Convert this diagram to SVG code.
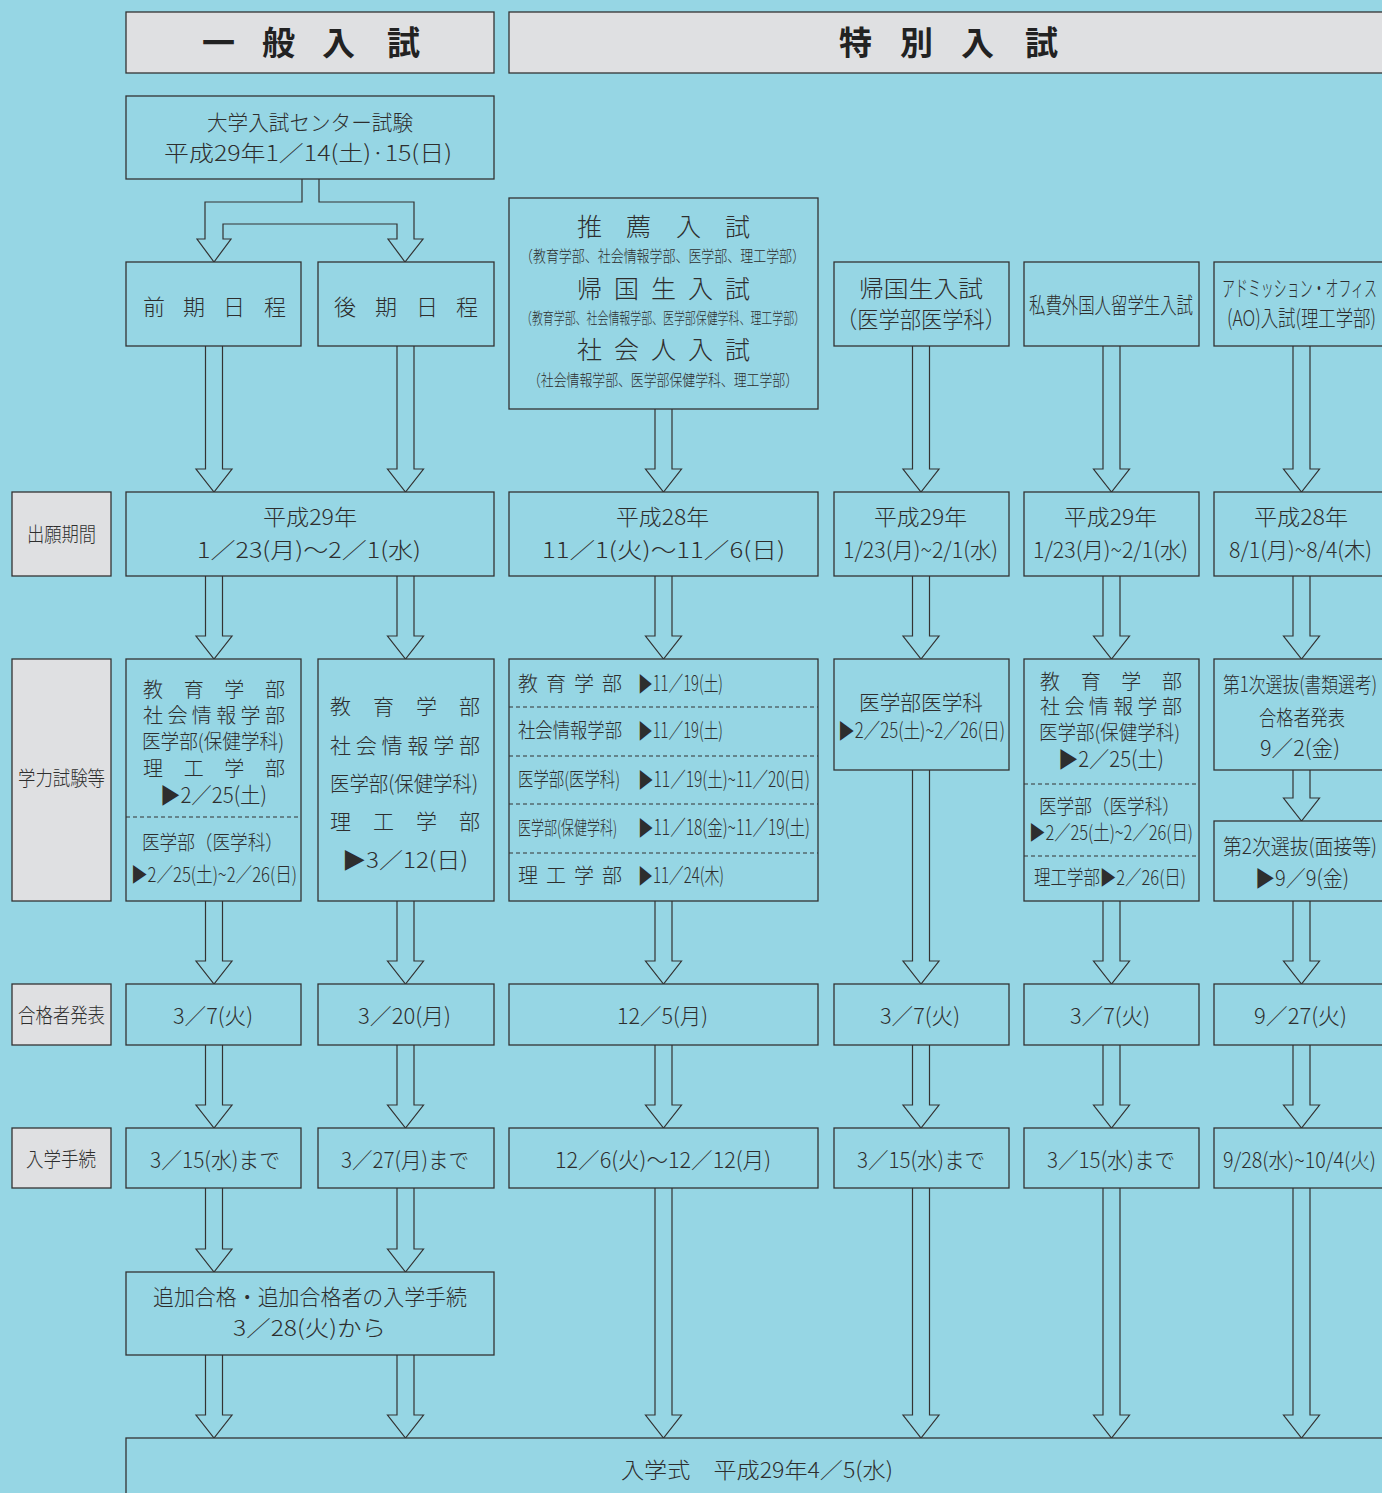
<svg xmlns="http://www.w3.org/2000/svg" width="1382" height="1493" viewBox="0 0 1382 1493">
<style>
.bg{fill:#96D6E4}
.box{fill:#96D6E4;stroke:#333;stroke-width:1.3}
.gray{fill:#DFE0E2;stroke:#333;stroke-width:1.3}
.arr{fill:#96D6E4;stroke:#333;stroke-width:1.2;stroke-linejoin:miter}
.dash{stroke:#333;stroke-width:1.2;stroke-dasharray:4 3;fill:none}
.t{font-family:"Noto Sans CJK JP","Noto Sans CJK SC",sans-serif;fill:#2e2e2e;font-weight:300}
.h{font-family:"Noto Sans CJK JP","Noto Sans CJK SC",sans-serif;fill:#222;font-weight:700;font-size:33px}
</style>
<rect class="bg" x="0" y="0" width="1382" height="1493"/>

<g id="connectors">
<path class="arr" d="M302,179 V202 H205 V239 H197 L214,262 L231,239 H223 V224 H397 V239 H388 L405,262 L423,239 H414 V202 H319 V179"/>
<path class="arr" d="M205.5,346 V469 H196 L214,492 L232,469 H222.5 V346"/>
<path class="arr" d="M397,346 V469 H387.5 L405.5,492 L423.5,469 H414 V346"/>
<path class="arr" d="M655,409 V469 H645.5 L663.5,492 L681.5,469 H672 V409"/>
<path class="arr" d="M912.5,346 V469 H903 L921,492 L939,469 H929.5 V346"/>
<path class="arr" d="M1103,346 V469 H1093.5 L1111.5,492 L1129.5,469 H1120 V346"/>
<path class="arr" d="M1293,346 V469 H1283.5 L1301.5,492 L1319.5,469 H1310 V346"/>

<path class="arr" d="M205.5,576 V636 H196 L214,659 L232,636 H222.5 V576"/>
<path class="arr" d="M397,576 V636 H387.5 L405.5,659 L423.5,636 H414 V576"/>
<path class="arr" d="M655,576 V636 H645.5 L663.5,659 L681.5,636 H672 V576"/>
<path class="arr" d="M912.5,576 V636 H903 L921,659 L939,636 H929.5 V576"/>
<path class="arr" d="M1103,576 V636 H1093.5 L1111.5,659 L1129.5,636 H1120 V576"/>
<path class="arr" d="M1293,576 V636 H1283.5 L1301.5,659 L1319.5,636 H1310 V576"/>

<path class="arr" d="M205.5,901 V961 H196 L214,984 L232,961 H222.5 V901"/>
<path class="arr" d="M397,901 V961 H387.5 L405.5,984 L423.5,961 H414 V901"/>
<path class="arr" d="M655,901 V961 H645.5 L663.5,984 L681.5,961 H672 V901"/>
<path class="arr" d="M912.5,770 V961 H903 L921,984 L939,961 H929.5 V770"/>
<path class="arr" d="M1103,901 V961 H1093.5 L1111.5,984 L1129.5,961 H1120 V901"/>
<path class="arr" d="M1293,901 V961 H1283.5 L1301.5,984 L1319.5,961 H1310 V901"/>
<path class="arr" d="M1293,770 V798 H1283.5 L1301.5,821 L1319.5,798 H1310 V770"/>

<path class="arr" d="M205.5,1045 V1105 H196 L214,1128 L232,1105 H222.5 V1045"/>
<path class="arr" d="M397,1045 V1105 H387.5 L405.5,1128 L423.5,1105 H414 V1045"/>
<path class="arr" d="M655,1045 V1105 H645.5 L663.5,1128 L681.5,1105 H672 V1045"/>
<path class="arr" d="M912.5,1045 V1105 H903 L921,1128 L939,1105 H929.5 V1045"/>
<path class="arr" d="M1103,1045 V1105 H1093.5 L1111.5,1128 L1129.5,1105 H1120 V1045"/>
<path class="arr" d="M1293,1045 V1105 H1283.5 L1301.5,1128 L1319.5,1105 H1310 V1045"/>

<path class="arr" d="M205.5,1188 V1249 H196 L214,1272 L232,1249 H222.5 V1188"/>
<path class="arr" d="M397,1188 V1249 H387.5 L405.5,1272 L423.5,1249 H414 V1188"/>
<path class="arr" d="M655,1188 V1415 H645.5 L663.5,1438 L681.5,1415 H672 V1188"/>
<path class="arr" d="M912.5,1188 V1415 H903 L921,1438 L939,1415 H929.5 V1188"/>
<path class="arr" d="M1103,1188 V1415 H1093.5 L1111.5,1438 L1129.5,1415 H1120 V1188"/>
<path class="arr" d="M1293,1188 V1415 H1283.5 L1301.5,1438 L1319.5,1415 H1310 V1188"/>

<path class="arr" d="M205.5,1355 V1415 H196 L214,1438 L232,1415 H222.5 V1355"/>
<path class="arr" d="M397,1355 V1415 H387.5 L405.5,1438 L423.5,1415 H414 V1355"/>
</g>

<g id="hdr-general">
<rect class="gray" x="126" y="12" width="368" height="61"/>
<text class="h" x="202 262 322 387" y="55">一般入試</text>
</g>
<g id="hdr-special">
<rect class="gray" x="509" y="12" width="881" height="61"/>
<text class="h" x="839 900 961 1025" y="55">特別入試</text>
</g>

<g id="center-test">
<rect class="box" x="126" y="96" width="368" height="83"/>
<text class="t" x="207" y="130" font-size="21" textLength="206" lengthAdjust="spacingAndGlyphs">大学入試センター試験</text>
<text class="t" x="164" y="161" font-size="22" textLength="288" lengthAdjust="spacingAndGlyphs">平成29年1／14(土)·15(日)</text>
</g>

<g id="zenki">
<rect class="box" x="126" y="262" width="175" height="84"/>
<text class="t" x="143 183 223 264" y="315" font-size="22">前期日程</text>
</g>
<g id="kouki">
<rect class="box" x="318" y="262" width="176" height="84"/>
<text class="t" x="334 375 416 456" y="315" font-size="22">後期日程</text>
</g>

<g id="suisen">
<rect class="box" x="509" y="198" width="309" height="211"/>
<text class="t" x="577 626 676 725" y="236" font-size="25">推薦入試</text>
<text class="t" x="520" y="262" font-size="16" textLength="285" lengthAdjust="spacingAndGlyphs">（教育学部、社会情報学部、医学部、理工学部）</text>
<text class="t" x="577 614 651 688 725" y="298" font-size="25">帰国生入試</text>
<text class="t" x="521" y="324" font-size="16" textLength="284" lengthAdjust="spacingAndGlyphs">（教育学部、社会情報学部、医学部保健学科、理工学部）</text>
<text class="t" x="577 614 651 688 725" y="359" font-size="25">社会人入試</text>
<text class="t" x="528" y="386" font-size="16" textLength="270" lengthAdjust="spacingAndGlyphs">（社会情報学部、医学部保健学科、理工学部）</text>
</g>

<g id="kikoku-med">
<rect class="box" x="834" y="262" width="175" height="84"/>
<text class="t" x="859" y="297" font-size="23" textLength="124" lengthAdjust="spacingAndGlyphs">帰国生入試</text>
<text class="t" x="836" y="328" font-size="23" textLength="170" lengthAdjust="spacingAndGlyphs">（医学部医学科）</text>
</g>
<g id="shihi">
<rect class="box" x="1024" y="262" width="175" height="84"/>
<text class="t" x="1029" y="313" font-size="22" textLength="164" lengthAdjust="spacingAndGlyphs">私費外国人留学生入試</text>
</g>
<g id="ao">
<rect class="box" x="1214" y="262" width="176" height="84"/>
<text class="t" x="1222" y="296" font-size="22" textLength="155" lengthAdjust="spacingAndGlyphs">アドミッション・オフィス</text>
<text class="t" x="1227" y="326" font-size="22" textLength="149" lengthAdjust="spacingAndGlyphs">(AO)入試(理工学部)</text>
</g>

<g id="lbl-shutsugan">
<rect class="gray" x="12" y="492" width="99" height="84"/>
<text class="t" x="27" y="542" font-size="20" textLength="69" lengthAdjust="spacingAndGlyphs">出願期間</text>
</g>
<g id="shutsugan-gen">
<rect class="box" x="126" y="492" width="368" height="84"/>
<text class="t" x="263" y="525" font-size="22" textLength="94" lengthAdjust="spacingAndGlyphs">平成29年</text>
<text class="t" x="197" y="558" font-size="22" textLength="224" lengthAdjust="spacingAndGlyphs">1／23(月)〜2／1(水)</text>
</g>
<g id="shutsugan-suisen">
<rect class="box" x="509" y="492" width="309" height="84"/>
<text class="t" x="616" y="525" font-size="22" textLength="93" lengthAdjust="spacingAndGlyphs">平成28年</text>
<text class="t" x="542" y="558" font-size="22" textLength="243" lengthAdjust="spacingAndGlyphs">11／1(火)〜11／6(日)</text>
</g>
<g id="shutsugan-kikoku">
<rect class="box" x="834" y="492" width="175" height="84"/>
<text class="t" x="874" y="525" font-size="22" textLength="93" lengthAdjust="spacingAndGlyphs">平成29年</text>
<text class="t" x="843" y="558" font-size="22" textLength="155" lengthAdjust="spacingAndGlyphs">1/23(月)~2/1(水)</text>
</g>
<g id="shutsugan-shihi">
<rect class="box" x="1024" y="492" width="175" height="84"/>
<text class="t" x="1064" y="525" font-size="22" textLength="93" lengthAdjust="spacingAndGlyphs">平成29年</text>
<text class="t" x="1033" y="558" font-size="22" textLength="155" lengthAdjust="spacingAndGlyphs">1/23(月)~2/1(水)</text>
</g>
<g id="shutsugan-ao">
<rect class="box" x="1214" y="492" width="176" height="84"/>
<text class="t" x="1254" y="525" font-size="22" textLength="94" lengthAdjust="spacingAndGlyphs">平成28年</text>
<text class="t" x="1229" y="558" font-size="22" textLength="143" lengthAdjust="spacingAndGlyphs">8/1(月)~8/4(木)</text>
</g>

<g id="lbl-gakuryoku">
<rect class="gray" x="12" y="659" width="99" height="242"/>
<text class="t" x="18" y="786" font-size="20" textLength="87" lengthAdjust="spacingAndGlyphs">学力試験等</text>
</g>
<g id="gakuryoku-zenki">
<rect class="box" x="126" y="659" width="175" height="242"/>
<text class="t" x="143 183.7 224.3 265" y="697" font-size="20">教育学部</text>
<text class="t" x="143 167.4 191.8 216.2 240.6 265" y="723" font-size="20">社会情報学部</text>
<text class="t" x="142" y="749" font-size="20" textLength="142" lengthAdjust="spacingAndGlyphs">医学部(保健学科)</text>
<text class="t" x="143 183.7 224.3 265" y="776" font-size="20">理工学部</text>
<text class="t" x="160" y="803" font-size="22" textLength="107" lengthAdjust="spacingAndGlyphs">▶2／25(土)</text>
<line class="dash" x1="126" y1="817" x2="301" y2="817"/>
<text class="t" x="142" y="850" font-size="20" textLength="141" lengthAdjust="spacingAndGlyphs">医学部（医学科）</text>
<text class="t" x="131" y="882" font-size="20" textLength="166" lengthAdjust="spacingAndGlyphs">▶2／25(土)~2／26(日)</text>
</g>
<g id="gakuryoku-kouki">
<rect class="box" x="318" y="659" width="176" height="242"/>
<text class="t" x="330 373 416 459" y="714" font-size="21">教育学部</text>
<text class="t" x="330 355.8 381.6 407.4 433.2 459" y="753" font-size="21">社会情報学部</text>
<text class="t" x="330" y="791" font-size="21" textLength="148" lengthAdjust="spacingAndGlyphs">医学部(保健学科)</text>
<text class="t" x="330 373 416 459" y="829" font-size="21">理工学部</text>
<text class="t" x="342" y="868" font-size="22" textLength="126" lengthAdjust="spacingAndGlyphs">▶3／12(日)</text>
</g>
<g id="gakuryoku-suisen">
<rect class="box" x="509" y="659" width="309" height="242"/>
<text class="t" x="518 546 574 602" y="691" font-size="20">教育学部</text>
<text class="t" x="638" y="691" font-size="21" textLength="85" lengthAdjust="spacingAndGlyphs">▶11／19(土)</text>
<line class="dash" x1="509" y1="707" x2="818" y2="707"/>
<text class="t" x="518" y="738" font-size="20" textLength="104" lengthAdjust="spacingAndGlyphs">社会情報学部</text>
<text class="t" x="638" y="738" font-size="21" textLength="85" lengthAdjust="spacingAndGlyphs">▶11／19(土)</text>
<line class="dash" x1="509" y1="756" x2="818" y2="756"/>
<text class="t" x="518" y="787" font-size="20" textLength="102" lengthAdjust="spacingAndGlyphs">医学部(医学科)</text>
<text class="t" x="638" y="787" font-size="21" textLength="172" lengthAdjust="spacingAndGlyphs">▶11／19(土)~11／20(日)</text>
<line class="dash" x1="509" y1="804" x2="818" y2="804"/>
<text class="t" x="518" y="835" font-size="19" textLength="99" lengthAdjust="spacingAndGlyphs">医学部(保健学科)</text>
<text class="t" x="638" y="835" font-size="21" textLength="172" lengthAdjust="spacingAndGlyphs">▶11／18(金)~11／19(土)</text>
<line class="dash" x1="509" y1="853" x2="818" y2="853"/>
<text class="t" x="518 546 574 602" y="883" font-size="20">理工学部</text>
<text class="t" x="638" y="883" font-size="21" textLength="86" lengthAdjust="spacingAndGlyphs">▶11／24(木)</text>
</g>
<g id="gakuryoku-kikoku">
<rect class="box" x="834" y="659" width="175" height="111"/>
<text class="t" x="859" y="710" font-size="21" textLength="124" lengthAdjust="spacingAndGlyphs">医学部医学科</text>
<text class="t" x="838" y="738" font-size="21" textLength="167" lengthAdjust="spacingAndGlyphs">▶2／25(土)~2／26(日)</text>
</g>
<g id="gakuryoku-shihi">
<rect class="box" x="1024" y="659" width="175" height="242"/>
<text class="t" x="1040 1080.7 1121.3 1162" y="689" font-size="20">教育学部</text>
<text class="t" x="1040 1064.4 1088.8 1113.2 1137.6 1162" y="714" font-size="20">社会情報学部</text>
<text class="t" x="1039" y="740" font-size="20" textLength="141" lengthAdjust="spacingAndGlyphs">医学部(保健学科)</text>
<text class="t" x="1058" y="767" font-size="22" textLength="106" lengthAdjust="spacingAndGlyphs">▶2／25(土)</text>
<line class="dash" x1="1024" y1="784" x2="1199" y2="784"/>
<text class="t" x="1039" y="814" font-size="20" textLength="141" lengthAdjust="spacingAndGlyphs">医学部（医学科）</text>
<text class="t" x="1029" y="840" font-size="20" textLength="164" lengthAdjust="spacingAndGlyphs">▶2／25(土)~2／26(日)</text>
<line class="dash" x1="1024" y1="856" x2="1199" y2="856"/>
<text class="t" x="1034" y="885" font-size="20" textLength="152" lengthAdjust="spacingAndGlyphs">理工学部▶2／26(日)</text>
</g>
<g id="gakuryoku-ao1">
<rect class="box" x="1214" y="659" width="176" height="111"/>
<text class="t" x="1223" y="692" font-size="21" textLength="154" lengthAdjust="spacingAndGlyphs">第1次選抜(書類選考)</text>
<text class="t" x="1259" y="725" font-size="21" textLength="86" lengthAdjust="spacingAndGlyphs">合格者発表</text>
<text class="t" x="1260" y="756" font-size="22" textLength="80" lengthAdjust="spacingAndGlyphs">9／2(金)</text>
</g>
<g id="gakuryoku-ao2">
<rect class="box" x="1214" y="821" width="176" height="80"/>
<text class="t" x="1223" y="854" font-size="21" textLength="154" lengthAdjust="spacingAndGlyphs">第2次選抜(面接等)</text>
<text class="t" x="1255" y="886" font-size="22" textLength="94" lengthAdjust="spacingAndGlyphs">▶9／9(金)</text>
</g>

<g id="lbl-goukaku">
<rect class="gray" x="12" y="984" width="99" height="61"/>
<text class="t" x="18" y="1023" font-size="20" textLength="87" lengthAdjust="spacingAndGlyphs">合格者発表</text>
</g>
<g id="goukaku-1"><rect class="box" x="126" y="984" width="175" height="61"/>
<text class="t" x="173" y="1024" font-size="22" textLength="80" lengthAdjust="spacingAndGlyphs">3／7(火)</text></g>
<g id="goukaku-2"><rect class="box" x="318" y="984" width="176" height="61"/>
<text class="t" x="358" y="1024" font-size="22" textLength="93" lengthAdjust="spacingAndGlyphs">3／20(月)</text></g>
<g id="goukaku-3"><rect class="box" x="509" y="984" width="309" height="61"/>
<text class="t" x="617" y="1024" font-size="22" textLength="91" lengthAdjust="spacingAndGlyphs">12／5(月)</text></g>
<g id="goukaku-4"><rect class="box" x="834" y="984" width="175" height="61"/>
<text class="t" x="880" y="1024" font-size="22" textLength="80" lengthAdjust="spacingAndGlyphs">3／7(火)</text></g>
<g id="goukaku-5"><rect class="box" x="1024" y="984" width="175" height="61"/>
<text class="t" x="1070" y="1024" font-size="22" textLength="80" lengthAdjust="spacingAndGlyphs">3／7(火)</text></g>
<g id="goukaku-6"><rect class="box" x="1214" y="984" width="176" height="61"/>
<text class="t" x="1254" y="1024" font-size="22" textLength="93" lengthAdjust="spacingAndGlyphs">9／27(火)</text></g>

<g id="lbl-tetsuzuki">
<rect class="gray" x="12" y="1128" width="99" height="60"/>
<text class="t" x="26" y="1167" font-size="20" textLength="70" lengthAdjust="spacingAndGlyphs">入学手続</text>
</g>
<g id="tetsuzuki-1"><rect class="box" x="126" y="1128" width="175" height="60"/>
<text class="t" x="150" y="1168" font-size="22" textLength="130" lengthAdjust="spacingAndGlyphs">3／15(水)まで</text></g>
<g id="tetsuzuki-2"><rect class="box" x="318" y="1128" width="176" height="60"/>
<text class="t" x="341" y="1168" font-size="22" textLength="128" lengthAdjust="spacingAndGlyphs">3／27(月)まで</text></g>
<g id="tetsuzuki-3"><rect class="box" x="509" y="1128" width="309" height="60"/>
<text class="t" x="555" y="1168" font-size="22" textLength="216" lengthAdjust="spacingAndGlyphs">12／6(火)〜12／12(月)</text></g>
<g id="tetsuzuki-4"><rect class="box" x="834" y="1128" width="175" height="60"/>
<text class="t" x="857" y="1168" font-size="22" textLength="128" lengthAdjust="spacingAndGlyphs">3／15(水)まで</text></g>
<g id="tetsuzuki-5"><rect class="box" x="1024" y="1128" width="175" height="60"/>
<text class="t" x="1047" y="1168" font-size="22" textLength="128" lengthAdjust="spacingAndGlyphs">3／15(水)まで</text></g>
<g id="tetsuzuki-6"><rect class="box" x="1214" y="1128" width="176" height="60"/>
<text class="t" x="1223" y="1168" font-size="21" textLength="153" lengthAdjust="spacingAndGlyphs">9/28(水)~10/4(火)</text></g>

<g id="tsuika">
<rect class="box" x="126" y="1272" width="368" height="83"/>
<text class="t" x="153" y="1305" font-size="22" textLength="314" lengthAdjust="spacingAndGlyphs">追加合格・追加合格者の入学手続</text>
<text class="t" x="233" y="1336" font-size="22" textLength="153" lengthAdjust="spacingAndGlyphs">3／28(火)から</text>
</g>

<g id="nyugakushiki">
<rect class="box" x="126" y="1438" width="1264" height="70"/>
<text class="t" x="621" y="1478" font-size="22" textLength="272" lengthAdjust="spacingAndGlyphs">入学式　平成29年4／5(水)</text>
</g>
</svg>
